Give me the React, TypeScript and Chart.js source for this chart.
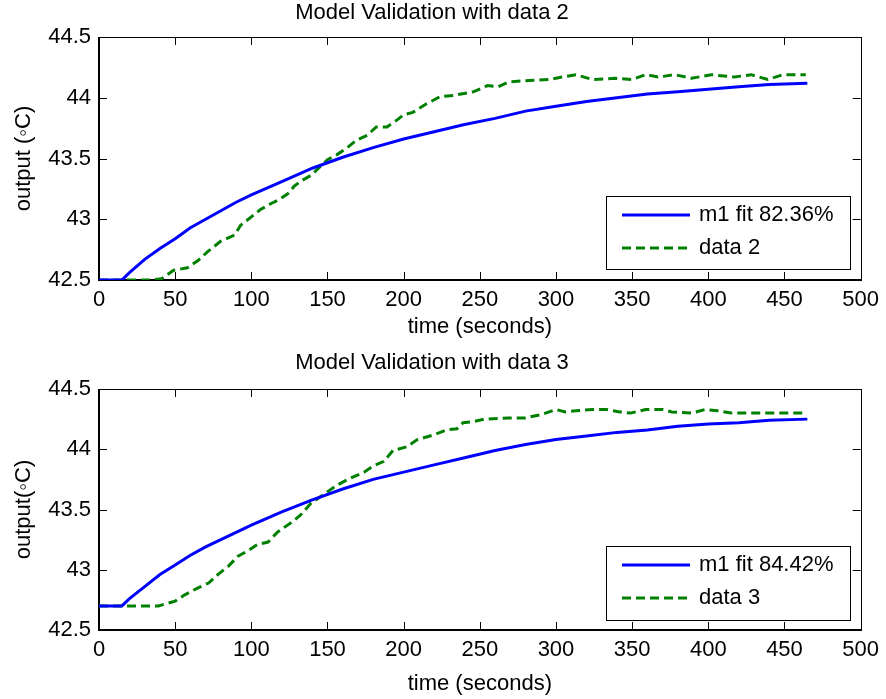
import React, { useEffect, useRef } from 'react';
import { Chart, registerables } from 'chart.js';

Chart.register(...registerables);

const FONT = '"Liberation Sans", Arial, Helvetica, sans-serif';

// Axis ticks
const X_TICKS = [0, 50, 100, 150, 200, 250, 300, 350, 400, 450, 500];
const Y_TICKS = [42.5, 43, 43.5, 44, 44.5];

// Panel 1: model fit vs data 2
const fitTime2 = [0, 15, 20, 30, 40, 50, 60, 70, 80, 90, 100, 120, 140, 160, 180, 200, 220, 240, 260, 280, 300, 320, 340, 360, 380, 400, 420, 440, 465];
const fitValues2 = [42.5, 42.5, 42.56, 42.67, 42.76, 42.84, 42.93, 43.0, 43.07, 43.14, 43.2, 43.31, 43.42, 43.51, 43.59, 43.66, 43.72, 43.78, 43.83, 43.89, 43.93, 43.97, 44.0, 44.03, 44.05, 44.07, 44.09, 44.11, 44.12];
const dataTime2 = [0, 34, 41, 49, 58, 65, 71, 80, 89, 93, 100, 106, 113, 118, 124, 128, 132, 139, 145, 150, 156, 163, 169, 176, 182, 189, 196, 200, 206, 215, 224, 233, 246, 255, 262, 269, 280, 295, 304, 313, 324, 339, 350, 359, 367, 378, 389, 402, 417, 428, 439, 449, 464];
const dataValues2 = [42.5, 42.5, 42.51, 42.58, 42.6, 42.66, 42.73, 42.82, 42.87, 42.95, 43.02, 43.08, 43.13, 43.16, 43.21, 43.27, 43.31, 43.36, 43.43, 43.49, 43.53, 43.59, 43.65, 43.69, 43.76, 43.76, 43.82, 43.86, 43.88, 43.95, 44.01, 44.02, 44.05, 44.1, 44.09, 44.13, 44.14, 44.15, 44.17, 44.19, 44.15, 44.16, 44.15, 44.19, 44.17, 44.19, 44.16, 44.19, 44.17, 44.19, 44.15, 44.19, 44.19];

// Panel 2: model fit vs data 3
const fitTime3 = [0, 15, 20, 30, 40, 50, 60, 70, 80, 90, 100, 120, 140, 160, 180, 200, 220, 240, 260, 280, 300, 320, 340, 360, 380, 400, 420, 440, 465];
const fitValues3 = [42.7, 42.7, 42.76, 42.86, 42.96, 43.04, 43.12, 43.19, 43.25, 43.31, 43.37, 43.48, 43.58, 43.67, 43.75, 43.81, 43.87, 43.93, 43.99, 44.04, 44.08, 44.11, 44.14, 44.16, 44.19, 44.21, 44.22, 44.24, 44.25];
const dataTime3 = [0, 39, 50, 56, 65, 72, 78, 85, 91, 98, 104, 111, 117, 126, 132, 139, 148, 156, 165, 174, 180, 187, 193, 202, 209, 220, 228, 235, 239, 246, 253, 269, 280, 291, 300, 306, 313, 324, 333, 342, 349, 359, 370, 376, 389, 398, 406, 415, 464];
const dataValues3 = [42.7, 42.7, 42.74, 42.79, 42.85, 42.89, 42.96, 43.03, 43.11, 43.16, 43.21, 43.23, 43.31, 43.39, 43.45, 43.55, 43.63, 43.7, 43.76, 43.81, 43.86, 43.9, 43.99, 44.02, 44.08, 44.12, 44.16, 44.17, 44.22, 44.23, 44.25, 44.26, 44.26, 44.29, 44.33, 44.31, 44.32, 44.33, 44.33, 44.31, 44.3, 44.33, 44.33, 44.31, 44.3, 44.33, 44.32, 44.3, 44.3];

const boxPlugin = {
  id: 'matlabBox',
  beforeDatasetsDraw(chart: any) {
    const { ctx, chartArea } = chart;
    const { left, right, top, bottom } = chartArea;
    const xs = chart.scales.x;
    const ys = chart.scales.y;
    ctx.save();
    ctx.strokeStyle = '#000';
    ctx.lineWidth = 1;
    const tl = 8;
    ctx.beginPath();
    X_TICKS.forEach((v) => {
      const px = Math.round(xs.getPixelForValue(v)) + 0.5;
      ctx.moveTo(px, bottom);
      ctx.lineTo(px, bottom - tl);
      ctx.moveTo(px, top);
      ctx.lineTo(px, top + tl);
    });
    Y_TICKS.forEach((v) => {
      const py = Math.round(ys.getPixelForValue(v)) + 0.5;
      ctx.moveTo(left, py);
      ctx.lineTo(left + tl, py);
      ctx.moveTo(right, py);
      ctx.lineTo(right - tl, py);
    });
    ctx.stroke();
    ctx.strokeRect(Math.round(left) + 0.5, Math.round(top) + 0.5, Math.round(right - left), Math.round(bottom - top));
    ctx.lineWidth = 2;
    ctx.beginPath();
    ctx.moveTo(Math.round(left), Math.round(top));
    ctx.lineTo(Math.round(left), Math.round(bottom));
    ctx.lineTo(Math.round(right), Math.round(bottom));
    ctx.stroke();
    ctx.restore();
  },
};

const legendPlugin = {
  id: 'matlabLegend',
  afterDatasetsDraw(chart: any, _args: any, opts: any) {
    const { ctx, chartArea } = chart;
    const w = 244;
    const h = opts.height || 73;
    const lx = Math.round(chartArea.right - 11 - w);
    const ly = Math.round(chartArea.bottom - (opts.gap || 11) - h);
    ctx.save();
    ctx.fillStyle = '#fff';
    ctx.fillRect(lx, ly, w, h);
    ctx.strokeStyle = '#000';
    ctx.lineWidth = 1;
    ctx.strokeRect(lx + 0.5, ly + 0.5, w, h);
    chart.data.datasets.forEach((ds: any, i: number) => {
      const yy = ly + 19 + i * 33;
      ctx.beginPath();
      ctx.strokeStyle = ds.borderColor;
      ctx.lineWidth = ds.borderWidth;
      ctx.setLineDash(ds.borderDash || []);
      ctx.moveTo(lx + 16, yy);
      ctx.lineTo(lx + 84, yy);
      ctx.stroke();
      ctx.setLineDash([]);
      ctx.fillStyle = '#000';
      ctx.font = `22px ${FONT}`;
      ctx.textBaseline = 'middle';
      ctx.textAlign = 'left';
      ctx.fillText(ds.label, lx + 93, yy);
    });
    ctx.restore();
  },
};

type PanelProps = {
  height: number;
  title: string;
  titleGap: number;
  yLabel: string;
  fitLabel: string;
  dataLabel: string;
  fitT: number[];
  fitV: number[];
  dataT: number[];
  dataV: number[];
  xTitlePad: number;
  legendGap: number;
  legendHeight: number;
};

function Panel(p: PanelProps) {
  const ref = useRef<HTMLCanvasElement | null>(null);
  useEffect(() => {
    if (!ref.current) return;
    const font = { family: FONT, size: 22, weight: 'normal' as const };
    const chart = new Chart(ref.current, {
      type: 'line',
      data: {
        datasets: [
          {
            label: p.fitLabel,
            data: p.fitT.map((t, i) => ({ x: t, y: p.fitV[i] })),
            borderColor: '#0000FF',
            borderWidth: 3,
            pointRadius: 0,
            tension: 0,
            fill: false,
          },
          {
            label: p.dataLabel,
            data: p.dataT.map((t, i) => ({ x: t, y: p.dataV[i] })),
            borderColor: '#008000',
            borderWidth: 3,
            borderDash: [9, 5],
            pointRadius: 0,
            tension: 0,
            fill: false,
          },
        ],
      },
      options: {
        animation: false,
        responsive: false,
        events: [],
        layout: { padding: { left: 0, right: 22, top: 0, bottom: 0 } },
        plugins: {
          legend: { display: false },
          tooltip: { enabled: false },
          title: {
            display: true,
            text: p.title,
            color: '#000',
            font,
            padding: { top: 0, bottom: p.titleGap },
          },
          matlabLegend: { gap: p.legendGap, height: p.legendHeight },
        } as any,
        scales: {
          x: {
            type: 'linear',
            min: 0,
            max: 500,
            afterBuildTicks: (s: any) => {
              s.ticks = X_TICKS.map((v) => ({ value: v }));
            },
            afterFit: (s: any) => {
              s.height = p.height - 280;
            },
            ticks: {
              color: '#000',
              font,
              padding: 7,
              maxRotation: 0,
              autoSkip: false,
              callback: (v: any) => String(v),
            },
            grid: { display: false, drawTicks: false },
            border: { display: false },
            title: {
              display: true,
              text: 'time (seconds)',
              color: '#000',
              font,
              padding: { top: 0, bottom: p.xTitlePad },
            },
          },
          y: {
            type: 'linear',
            min: 42.5,
            max: 44.5,
            afterBuildTicks: (s: any) => {
              s.ticks = Y_TICKS.map((v) => ({ value: v }));
            },
            afterFit: (s: any) => {
              s.width = 99;
            },
            ticks: {
              color: '#000',
              font,
              padding: 8,
              autoSkip: false,
              callback: (v: any) => String(v),
            },
            grid: { display: false, drawTicks: false },
            border: { display: false },
            title: {
              display: true,
              text: p.yLabel,
              color: '#000',
              font,
              padding: { top: 11, bottom: 0 },
            },
          },
        },
      } as any,
      plugins: [boxPlugin, legendPlugin],
    });
    return () => chart.destroy();
  }, []);
  return <canvas ref={ref} width={886} height={p.height} style={{ display: 'block', width: 886, height: p.height }} />;
}

export default function App() {
  return (
    <div style={{ position: 'absolute', left: 0, top: 0, width: 886, height: 699, background: '#fff' }}>
      <Panel
        height={350}
        title="Model Validation with data 2"
        titleGap={10.6}
        yLabel="output (◦C)"
        fitLabel="m1 fit 82.36%"
        dataLabel="data 2"
        fitT={fitTime2}
        fitV={fitValues2}
        dataT={dataTime2}
        dataV={dataValues2}
        xTitlePad={9.8}
        legendGap={11}
        legendHeight={73}
      />
      <Panel
        height={349}
        title="Model Validation with data 3"
        titleGap={12.6}
        yLabel="output(◦C)"
        fitLabel="m1 fit 84.42%"
        dataLabel="data 3"
        fitT={fitTime3}
        fitV={fitValues3}
        dataT={dataTime3}
        dataV={dataValues3}
        xTitlePad={1.8}
        legendGap={10}
        legendHeight={74}
      />
    </div>
  );
}
